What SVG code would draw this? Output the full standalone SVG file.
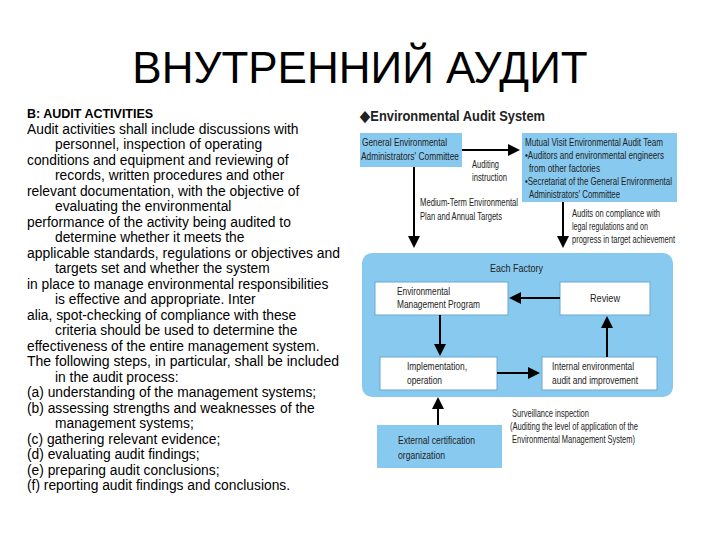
<svg xmlns="http://www.w3.org/2000/svg" width="720" height="540" viewBox="0 0 720 540">
<style>
.l{font-family:"Liberation Sans",Arial,sans-serif;font-size:13.8px;fill:#000}
.d{font-family:"Liberation Sans",Arial,sans-serif;font-size:10.5px;fill:#222}
.b{fill:#88c9ef}
.w{fill:#fff;stroke:#6aa8d0;stroke-width:1}
.c{stroke:#000;stroke-width:2;fill:none;marker-end:url(#a)}
</style>
<defs><marker id="a" markerWidth="6" markerHeight="6" refX="5" refY="3" orient="auto" markerUnits="strokeWidth"><path d="M0,0L6,3L0,6z" fill="#000"/></marker></defs>
<rect width="720" height="540" fill="#fff"/>
<text x="360" y="83" text-anchor="middle" font-family="Liberation Sans,Arial,sans-serif" font-size="44">ВНУТРЕННИЙ АУДИТ</text>
<g id="bodytext" class="l">
<text x="27" y="118" font-weight="bold" font-size="12.5">B: AUDIT ACTIVITIES</text>
<text x="27" y="133.5">Audit activities shall include discussions with</text>
<text x="55" y="149">personnel, inspection of operating</text>
<text x="27" y="164.5">conditions and equipment and reviewing of</text>
<text x="55" y="180">records, written procedures and other</text>
<text x="27" y="195.5">relevant documentation, with the objective of</text>
<text x="55" y="211">evaluating the environmental</text>
<text x="27" y="226.5">performance of the activity being audited to</text>
<text x="55" y="242">determine whether it meets the</text>
<text x="27" y="257.5" textLength="313" lengthAdjust="spacingAndGlyphs">applicable standards, regulations or objectives and</text>
<text x="55" y="273">targets set and whether the system</text>
<text x="27" y="288.5">in place to manage environmental responsibilities</text>
<text x="55" y="304">is effective and appropriate. Inter</text>
<text x="27" y="319.5">alia, spot-checking of compliance with these</text>
<text x="55" y="335">criteria should be used to determine the</text>
<text x="27" y="350.5">effectiveness of the entire management system.</text>
<text x="27" y="366" textLength="312" lengthAdjust="spacingAndGlyphs">The following steps, in particular, shall be included</text>
<text x="55" y="381.5">in the audit process:</text>
<text x="27" y="397">(a) understanding of the management systems;</text>
<text x="27" y="412.5">(b) assessing strengths and weaknesses of the</text>
<text x="55" y="428">management systems;</text>
<text x="27" y="443.5">(c) gathering relevant evidence;</text>
<text x="27" y="459">(d) evaluating audit findings;</text>
<text x="27" y="474.5">(e) preparing audit conclusions;</text>
<text x="27" y="490">(f) reporting audit findings and conclusions.</text>
</g>
<text x="360" y="121" font-family="Liberation Sans,Arial,sans-serif" font-size="15" font-weight="bold" fill="#222" textLength="185" lengthAdjust="spacingAndGlyphs">◆Environmental Audit System</text>
<g id="factory"><rect class="b" x="362" y="253" width="311" height="144" rx="10"/><text class="d" x="490" y="272" font-size="11" textLength="53" lengthAdjust="spacingAndGlyphs">Each Factory</text></g>
<g id="geac"><rect class="b" x="360" y="133" width="102" height="34"/><text class="d" x="362" y="146" textLength="85" lengthAdjust="spacingAndGlyphs">General Environmental</text><text class="d" x="361" y="160" textLength="98" lengthAdjust="spacingAndGlyphs">Administrators' Committee</text></g>
<g id="mveat"><rect class="b" x="522" y="133" width="155" height="69"/><text class="d" x="525" y="146" textLength="138" lengthAdjust="spacingAndGlyphs">Mutual Visit Environmental Audit Team</text><text class="d" x="525" y="159" textLength="139" lengthAdjust="spacingAndGlyphs">•Auditors and environmental engineers</text><text class="d" x="529" y="172" textLength="71" lengthAdjust="spacingAndGlyphs">from other factories</text><text class="d" x="525" y="185" textLength="147" lengthAdjust="spacingAndGlyphs">•Secretariat of the General Environmental</text><text class="d" x="529" y="198" textLength="91" lengthAdjust="spacingAndGlyphs">Administrators' Committee</text></g>
<g id="emp"><rect class="w" x="375" y="282" width="133" height="33"/><text class="d" x="397" y="295" textLength="53" lengthAdjust="spacingAndGlyphs">Environmental</text><text class="d" x="397" y="308" textLength="83" lengthAdjust="spacingAndGlyphs">Management Program</text></g>
<g id="review"><rect class="w" x="560" y="282" width="90" height="33"/><text class="d" x="590" y="302" textLength="30" lengthAdjust="spacingAndGlyphs">Review</text></g>
<g id="impl"><rect class="w" x="380" y="357" width="117" height="33"/><text class="d" x="407" y="370" textLength="60" lengthAdjust="spacingAndGlyphs">Implementation,</text><text class="d" x="407" y="384" textLength="35" lengthAdjust="spacingAndGlyphs">operation</text></g>
<g id="internal"><rect class="w" x="542" y="357" width="115" height="33"/><text class="d" x="552" y="370" textLength="82" lengthAdjust="spacingAndGlyphs">Internal environmental</text><text class="d" x="552" y="384" textLength="86" lengthAdjust="spacingAndGlyphs">audit and improvement</text></g>
<g id="external"><rect class="b" x="377" y="425" width="125" height="43"/><text class="d" x="398" y="444" textLength="77" lengthAdjust="spacingAndGlyphs">External certification</text><text class="d" x="398" y="459" textLength="47" lengthAdjust="spacingAndGlyphs">organization</text></g>
<g id="connectors">
<path class="c" d="M462,150H518"/>
<path class="c" d="M414,167V246"/>
<path class="c" d="M563,202V246"/>
<path class="c" d="M560,298H511"/>
<path class="c" d="M440,315V354"/>
<path class="c" d="M497,373H538"/>
<path class="c" d="M607,357V318"/>
<path class="c" d="M438,425V399"/>
</g>
<g id="labels" class="d" font-size="10">
<text x="472" y="168" textLength="27" lengthAdjust="spacingAndGlyphs">Auditing</text><text x="472" y="181" textLength="35" lengthAdjust="spacingAndGlyphs">instruction</text>
<text x="420" y="206" textLength="98" lengthAdjust="spacingAndGlyphs">Medium-Term Environmental</text><text x="420" y="220" textLength="82" lengthAdjust="spacingAndGlyphs">Plan and Annual Targets</text>
<text x="572" y="217" textLength="88" lengthAdjust="spacingAndGlyphs">Audits on compliance with</text><text x="572" y="230" textLength="76" lengthAdjust="spacingAndGlyphs">legal regulations and on</text><text x="572" y="243" textLength="103" lengthAdjust="spacingAndGlyphs">progress in target achievement</text>
<text x="512" y="417" textLength="77" lengthAdjust="spacingAndGlyphs">Surveillance inspection</text><text x="510" y="430" textLength="128" lengthAdjust="spacingAndGlyphs">(Auditing the level of application of the</text><text x="512" y="443" textLength="123" lengthAdjust="spacingAndGlyphs">Environmental Management System)</text>
</g>
</svg>
